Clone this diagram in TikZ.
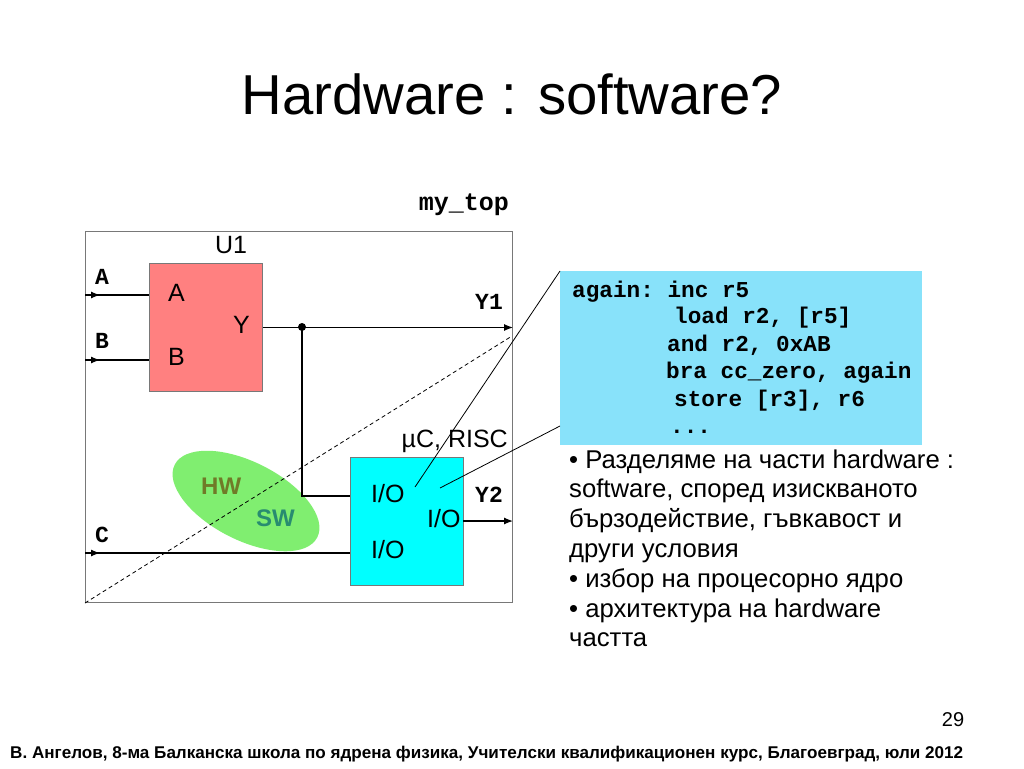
\documentclass[tikz,border=0pt]{standalone}
\usepackage{fontspec}
\setmainfont{Liberation Sans}
\setmonofont{Liberation Mono}
\usetikzlibrary{arrows.meta,shapes.geometric}

\definecolor{blockred}{RGB}{255,128,128}
\definecolor{iocyan}{RGB}{0,255,255}
\definecolor{codeblue}{RGB}{136,226,250}
\definecolor{splitgreen}{RGB}{128,238,112}
\definecolor{hwolive}{RGB}{112,122,40}
\definecolor{swteal}{RGB}{40,140,112}
\definecolor{framegray}{RGB}{120,120,120}

\newcommand{\px}[1]{\fontsize{#1pt}{#1pt}\selectfont}

\begin{document}
\begin{tikzpicture}[x=1pt,y=-1pt]
      % Define styles
      \tikzset{
        block/.style={draw=framegray, line width=1pt, inner sep=0pt, anchor=north west},
        wire/.style={line width=1.2pt},
        arrow/.style={-{Latex[length=9pt,width=7pt]}, line width=1.2pt},
        pointer/.style={line width=0.8pt},
        port/.style={font=\px{25}, anchor=base west, inner sep=0pt},
        pin/.style={font=\ttfamily\bfseries\px{23}, anchor=base west, inner sep=0pt},
        code/.style={font=\ttfamily\bfseries\px{22.7}, anchor=base west, inner sep=0pt},
        note/.style={font=\px{25.7}, anchor=base west, inner sep=0pt}
      }
      \useasboundingbox (0,0) rectangle (1024,768);
      % Title
      \node[font=\px{56.3}, anchor=base, inner sep=0pt] (title) at (512,114) {Hardware : software?};
      % Top level frame
      \node[block, minimum width=427, minimum height=371] (top) at (85,231) {};
      \node[pin, font=\ttfamily\bfseries\px{25}, anchor=base east] (toplbl) at (509,210) {my\_top};
      % Split line and HW/SW ellipse
      \coordinate (split) at (512,336);
      \node[ellipse, fill=splitgreen, minimum width=160, minimum height=78, rotate=-27] (hwsw) at (246,501) {};
      \draw[dashed, dash pattern=on 4pt off 3pt, line width=0.8pt] (top.south west) -- (split);
      \node[port, font=\bfseries\px{24}, text=hwolive] (hw) at (201,494) {HW};
      \node[port, font=\bfseries\px{24}, text=swteal] (sw) at (256,526) {SW};
      % Block U1
      \node[block, fill=blockred, minimum width=113, minimum height=128] (u1) at (149,263) {};
      \node[port, anchor=base] (u1lbl) at (231,253) {U1};
      \node[port] (u1a) at (168,301) {A};
      \node[port] (u1y) at (233,333) {Y};
      \node[port] (u1b) at (168,365) {B};
      % Processor block
      \node[block, fill=iocyan, minimum width=113, minimum height=128] (cpu) at (350,457) {};
      \node[port, anchor=base east] (cpulbl) at (508,447) {µC, RISC};
      \node[port] (io1) at (371,502) {I/O};
      \node[port] (io2) at (427,527) {I/O};
      \node[port] (io3) at (371,558) {I/O};
      % Inputs
      \foreach \name/\y/\ly in {A/295/284, B/360/348} {
        \coordinate (in\name) at (85,\y);
        \draw[wire] (in\name) -- (u1.west |- in\name);
        \draw[arrow] (in\name) -- ++(15,0);
        \node[pin] (lbl\name) at (95,\ly) {\name};
      }
      \coordinate (inC) at (85,553);
      \draw[wire] (inC) -- (cpu.west |- inC);
      \draw[arrow] (inC) -- ++(15,0);
      \node[pin] (lblC) at (95,542) {C};
      % Outputs
      \coordinate (tap) at (302,327);
      \coordinate (cpuin) at (350,496);
      \coordinate (y2out) at (463,521);
      \draw[arrow] (u1.east) -- (top.east |- u1.east);
      \fill (tap) circle (4);
      \draw[wire] (tap) |- (cpuin);
      \draw[arrow] (y2out) -- (top.east |- y2out);
      \node[pin] (lblY1) at (475,309) {Y1};
      \node[pin] (lblY2) at (475,502) {Y2};
      % Code listing
      \node[anchor=north west, fill=codeblue, minimum width=362, minimum height=174, inner sep=0pt] (code) at (560,271) {};
      \foreach \x/\y/\txt [count=\i] in {572/297/{again: inc r5}, 674/323/{load r2, [r5]},
          667/351/{and r2, 0xAB}, 666/378/{bra cc\_zero, again}, 674/406/{store [r3], r6}, 670/433/{...}} {
        \node[code] (line\i) at (\x,\y) {\txt};
      }
      \coordinate (pick1) at (415,487);
      \coordinate (pick2) at (440,488);
      \draw[pointer] (pick1) -- (code.north west);
      \draw[pointer] (pick2) -- (code.west |- 0,426);
      % Notes
      \foreach \txt [count=\i] in {{• Разделяме на части hardware :}, {software, според изискваното},
          {бързодействие, гъвкавост и}, {други условия}, {• избор на процесорно ядро},
          {• архитектура на hardware}, {частта}} {
        \node[note] (note\i) at (569,{468+29.8*(\i-1)}) {\txt};
      }
      % Footer
      \node[font=\px{20}, anchor=base, inner sep=0pt] (pagenum) at (953,726) {29};
      \node[font=\bfseries\px{17}, anchor=base west, inner sep=0pt] (footer) at (10,758)
        {\resizebox{953pt}{\height}{В. Ангелов, 8-ма Балканска школа по ядрена физика, Учителски квалификационен курс, Благоевград, юли 2012}};
    \end{tikzpicture}
\end{document}
